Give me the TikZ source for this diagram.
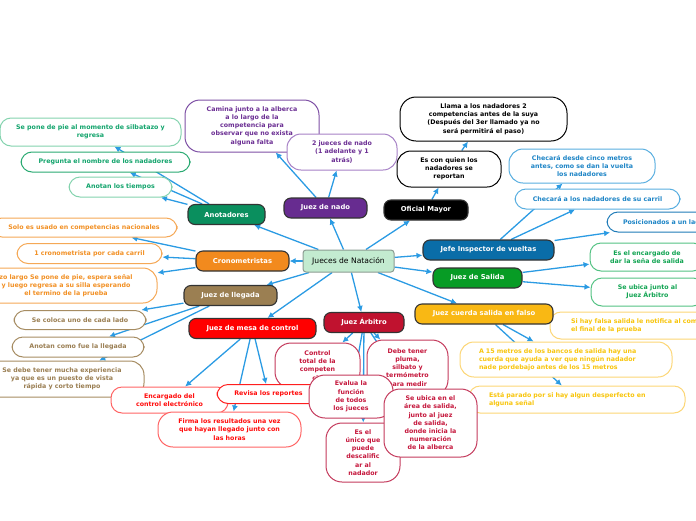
\documentclass[tikz,border=0pt]{standalone}
\usepackage{fontspec}
\setmainfont{DejaVu Sans}
\usetikzlibrary{arrows.meta,backgrounds}

\definecolor{azul}{HTML}{2B9BE3}
\definecolor{raizFondo}{HTML}{C3EBD0}
\definecolor{raizBorde}{HTML}{8C9C92}
\definecolor{anotFondo}{HTML}{0A8F5E}
\definecolor{anotTexto}{HTML}{12A46C}
\definecolor{anotBorde}{HTML}{84D3AE}
\definecolor{anotBordeB}{HTML}{2AAA72}
\definecolor{nadoFondo}{HTML}{672C90}
\definecolor{nadoTexto}{HTML}{6B2E93}
\definecolor{nadoBorde}{HTML}{7E50A5}
\definecolor{nadoBordeB}{HTML}{A681C6}
\definecolor{jefeFondo}{HTML}{0A6DA8}
\definecolor{jefeTexto}{HTML}{1C84C6}
\definecolor{jefeBorde}{HTML}{58AEE0}
\definecolor{jefeBordeB}{HTML}{1F7BB8}
\definecolor{salFondo}{HTML}{079C25}
\definecolor{salTexto}{HTML}{11A452}
\definecolor{salBorde}{HTML}{54C283}
\definecolor{cuerFondo}{HTML}{F9B814}
\definecolor{cuerTexto}{HTML}{F8C50C}
\definecolor{cuerBorde}{HTML}{FCD676}
\definecolor{arbFondo}{HTML}{C0122F}
\definecolor{arbTexto}{HTML}{C5173C}
\definecolor{arbBorde}{HTML}{C43A5C}
\definecolor{mesaFondo}{HTML}{FF0000}
\definecolor{mesaTexto}{HTML}{FF0A0A}
\definecolor{mesaBorde}{HTML}{FF6464}
\definecolor{mesaBordeB}{HTML}{FF1E1E}
\definecolor{llegFondo}{HTML}{9B7F52}
\definecolor{llegTexto}{HTML}{9A7E52}
\definecolor{llegBorde}{HTML}{A68C62}
\definecolor{cronoFondo}{HTML}{F28A1E}
\definecolor{cronoTexto}{HTML}{F29024}
\definecolor{cronoBorde}{HTML}{F5A856}

\tikzset{
  rama/.style={draw=black!80, line width=1.1pt, rounded corners=7pt, text=white, inner sep=0pt,
    font=\bfseries\fontsize{6.8}{8.2}\selectfont},
  hoja/.style={fill=white, line width=1pt, rounded corners=11pt, align=center, inner sep=0pt,
    font=\bfseries\fontsize{6.3}{8.2}\selectfont},
  tam/.style 2 args={minimum width=#1pt, minimum height=#2pt},
  flecha/.style={draw=azul, line width=1.3pt, -{Latex[length=6pt,width=6pt]}},
}

\begin{document}
\begin{tikzpicture}[x=1pt,y=-1pt]
      \useasboundingbox (0,0) rectangle (696,520);
      \clip (0,0) rectangle (696,520);

      \node[hoja, draw=anotBorde, text=anotTexto, tam={181}{28}] (an1) at (90.5,132) {Se pone de pie al momento de silbatazo y\\ regresa};
      \node[hoja, draw=anotBordeB, text=anotTexto, tam={169}{20}] (an2) at (105.5,162) {Pregunta el nombre de los nadadores};
      \node[hoja, draw=anotBorde, text=anotTexto, tam={103}{20}] (an3) at (120.5,187) {Anotan los tiempos};

      \node[hoja, draw=nadoBorde, text=nadoTexto, tam={134}{52}, rounded corners=15pt] (nd1) at (252,126) {Camina junto a la alberca\\ a lo largo de la\\ competencia para\\ observar que no exista\\ alguna falta};
      \node[hoja, draw=nadoBordeB, text=nadoTexto, tam={110}{36}, rounded corners=14pt] (nd2) at (342,152) {2 jueces de nado\\ (1 adelante y 1\\ atrás)};

      \node[hoja, draw=black, text=black, tam={104}{36}, rounded corners=14pt] (om1) at (449,169) {Es con quien los\\ nadadores se\\ reportan};
      \node[hoja, draw=black, text=black, tam={167}{44}, rounded corners=16pt] (om2) at (483.5,119) {Llama a los nadadores 2\\ competencias antes de la suya\\ (Después del 3er llamado ya no\\ será permitirá el paso)};

      \node[hoja, draw=jefeBorde, text=jefeTexto, tam={146}{34}, rounded corners=14pt] (je1) at (582,166) {Checará desde cinco metros\\ antes, como se dan la vuelta\\ los nadadores};
      \node[hoja, draw=jefeBorde, text=jefeTexto, tam={165}{20}] (je2) at (597.5,199) {Checará a los nadadores de su carril};
      \node[hoja, draw=jefeBordeB, text=jefeTexto, tam={152}{20}, align=left, text width=120pt] (je3) at (683,222) {Posicionados a un lado};

      \node[hoja, draw=salBorde, text=salTexto, tam={114}{28}] (sa1) at (647,257) {Es el encargado de\\ dar la seña de salida};
      \node[hoja, draw=salBorde, text=salTexto, tam={113}{28}] (sa2) at (647.5,292) {Se ubica junto al\\ Juez Árbitro};

      \node[hoja, draw=cuerBorde, text=cuerTexto, tam={230}{27}, align=left, text width=188pt] (cu1) at (665,325.5) {Si hay falsa salida le notifica al competidor\\ el final de la prueba};
      \node[hoja, draw=cuerBorde, text=cuerTexto, tam={212}{35}, align=left, text width=174pt, rounded corners=14pt] (cu2) at (566,359.5) {A 15 metros de los bancos de salida hay una\\ cuerda que ayuda a ver que ningún nadador\\ nade pordebajo antes de los 15 metros};
      \node[hoja, draw=cuerBorde, text=cuerTexto, tam={216}{27}, align=left, text width=176pt] (cu3) at (577,399.5) {Está parado por si hay algun desperfecto en\\ alguna señal};

      \node[hoja, draw=llegBorde, text=llegTexto, tam={132}{19}] (ll1) at (80,320) {Se coloca uno de cada lado};
      \node[hoja, draw=llegBorde, text=llegTexto, tam={132}{20}] (ll2) at (78,347) {Anotan como fue la llegada};
      \node[hoja, draw=llegBorde, text=llegTexto, tam={164}{36}, rounded corners=14pt] (ll3) at (62,379) {Se debe tener mucha experiencia\\ ya que es un puesto de vista\\ rápida y corto tiempo};

      \node[hoja, draw=cronoBorde, text=cronoTexto, tam={186}{19}] (cr1) at (84,227.5) {Solo es usado en competencias nacionales};
      \node[hoja, draw=cronoBorde, text=cronoTexto, tam={145}{20}] (cr2) at (89.5,253.5) {1 cronometrista por cada carril};
      \node[hoja, draw=cronoBorde, text=cronoTexto, tam={182}{35}, rounded corners=14pt] (cr3) at (66,285.5) {zo largo Se pone de pie, espera señal\\ y luego regresa a su silla esperando\\ el termino de la prueba};

      \node[hoja, draw=arbBorde, text=arbTexto, tam={85}{45}, rounded corners=16pt] (ar1) at (317.5,365.5) {Control\\ total de la\\ competen\\ cia};

      \node[hoja, draw=mesaBorde, text=mesaTexto, tam={117}{26}] (me1) at (169.5,400) {Encargado del\\ control electrónico};
      \node[hoja, draw=mesaBordeB, text=mesaTexto, tam={103}{19}] (me2) at (268.5,394) {Revisa los reportes};
      \node[hoja, draw=mesaBorde, text=mesaTexto, tam={143}{35}, rounded corners=15pt] (me3) at (229.5,429.5) {Firma los resultados una vez\\ que hayan llegado junto con\\ las horas};

      \node[hoja, draw=arbBorde, text=arbTexto, tam={81}{56}, rounded corners=16pt] (ar2) at (407.5,368) {Debe tener\\ pluma,\\ silbato y\\ termómetro\\ para medir};
      \node[hoja, draw=arbBorde, text=arbTexto, tam={84}{43}, rounded corners=16pt] (ar3) at (351,396.5) {Evalua la\\ función\\ de todos\\ los jueces};
      \node[hoja, draw=arbBorde, text=arbTexto, tam={74}{59}, rounded corners=16pt] (ar5) at (363,452.5) {Es el\\ único que\\ puede\\ descalific\\ ar al\\ nadador};
      \node[hoja, draw=arbBorde, text=arbTexto, tam={93}{68}, rounded corners=16pt] (ar4) at (430.5,423) {Se ubica en el\\ área de salida,\\ junto al juez\\ de salida,\\ donde inicia la\\ numeración\\ de la alberca};

      \node[rama, fill=anotFondo, tam={77}{20}] (anot) at (226.5,214.5) {Anotadores};
      \node[rama, fill=nadoFondo, tam={83}{20}] (nado) at (325.5,208) {Juez de nado};
      \node[rama, fill=black, tam={84}{20}] (ofi) at (426,210) {Oficial Mayor};
      \node[rama, fill=jefeFondo, tam={131}{20}] (jefe) at (488.5,250) {Jefe Inspector de vueltas};
      \node[rama, fill=salFondo, tam={89}{20}] (sal) at (477.5,278) {Juez de Salida};
      \node[rama, fill=cuerFondo, tam={138}{20}] (cuer) at (484,314) {Juez cuerda salida en falso};
      \node[rama, fill=arbFondo, tam={80}{20}] (arb) at (364,322.5) {Juez Árbitro};
      \node[rama, fill=mesaFondo, tam={127}{20}] (mesa) at (252.5,328.5) {Juez de mesa de control};
      \node[rama, fill=llegFondo, tam={93}{20}] (lleg) at (230.5,295.5) {Juez de llegada};
      \node[rama, fill=cronoFondo, tam={93}{20}] (crono) at (242.5,261) {Cronometristas};

      \node[draw=raizBorde, fill=raizFondo, line width=1pt, rounded corners=3pt, inner sep=0pt, tam={91}{22},
        font=\fontsize{7.6}{9}\selectfont] (raiz) at (348.5,261) {Jueces de Natación};

      \begin{scope}[on background layer]
        \foreach \hijo in {anot,nado,ofi,jefe,sal,cuer,arb,mesa,lleg,crono}
          \draw[flecha] (raiz) -- (\hijo);
        \foreach \hijo in {an1,an2,an3}
          \draw[flecha] (anot) -- (\hijo);
        \foreach \hijo in {nd1,nd2}
          \draw[flecha] (nado) -- (\hijo);
        \draw[flecha] (ofi) -- (om1);
        \draw[flecha] (om1) -- (om2);
        \foreach \hijo in {je1,je2,je3}
          \draw[flecha] (jefe) -- (\hijo);
        \foreach \hijo in {sa1,sa2}
          \draw[flecha] (sal) -- (\hijo);
        \foreach \hijo in {cu2,cu3}
          \draw[flecha] (cuer) -- (\hijo);
        \foreach \hijo in {ar1,ar2,ar3,ar4,ar5}
          \draw[flecha] (arb) -- (\hijo);
        \foreach \hijo in {me1,me2,me3}
          \draw[flecha] (mesa) -- (\hijo);
        \foreach \hijo in {ll1,ll2,ll3}
          \draw[flecha] (lleg) -- (\hijo);
        \foreach \hijo in {cr1,cr2,cr3}
          \draw[flecha] (crono) -- (\hijo);
      \end{scope}
\end{tikzpicture}
\end{document}
